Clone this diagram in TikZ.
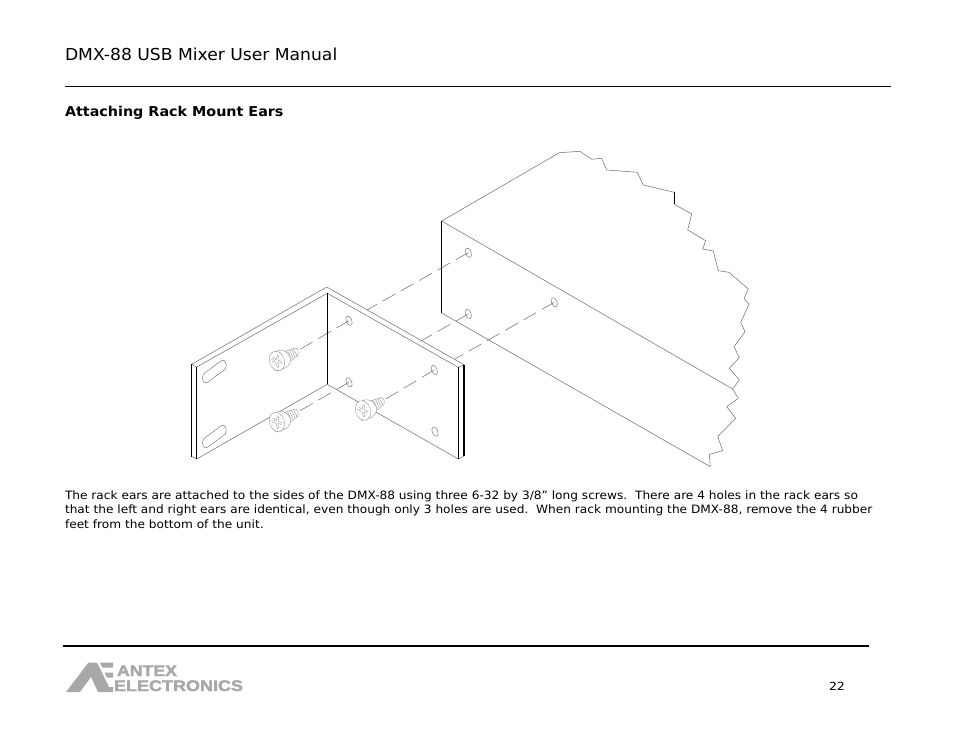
\documentclass[tikz,border=0pt]{standalone}
\usepackage{graphicx}
\usepackage{fontspec}
\setmainfont{DejaVu Sans}
\newfontfamily\logofont[BoldFeatures={FakeBold=2.2}]{Liberation Sans}
\usetikzlibrary{calc}
\definecolor{ink}{gray}{0.45}
\definecolor{logogray}{gray}{0.66}
\tikzset{
  thinline/.style={draw=ink,line width=0.55pt,line join=round},
  blackline/.style={draw=black,line width=1.1pt},
  centerline/.style={draw=ink,line width=0.55pt,dash pattern=on 14.5pt off 6.5pt},
  textline/.style={anchor=base west,inner sep=0pt,outer sep=0pt},
  screwpart/.style={draw=black!50,line width=0.3pt},
}
\newcommand{\rackhole}[1]{\draw[thinline,line width=0.45pt] (#1) ellipse[x radius=2.8,y radius=5,rotate=22];}
\newcommand{\earslot}[1]{\begin{scope}[shift={(#1)}]
  \draw[thinline,line width=0.45pt] (-10.8,3.2) -- (7,-10) .. controls (10.5,-12.5) and (13.5,-6.5) .. (11,-1.5) -- (-7,11.8) .. controls (-10.5,14) and (-13.5,8) .. cycle;
\end{scope}}
\newcommand{\thescrew}[1]{%
  \begin{scope}[shift={(#1)}]
    \draw[screwpart,fill=white] (5,-8.5) -- (18,-13) .. controls (20.5,-13.5) and (22,-9) .. (21,-6) -- (11,2) -- cycle;
    \foreach \d in {0,2,...,10}{
      \draw[screwpart] ($(6.5,-9)+(\d,-\d*0.35)$) -- ($(10,0.5)+(\d,-\d*0.6)$);
    }
    \draw[screwpart,fill=white] (-1,-9.8) .. controls (4,-12) and (10.5,-10.5) .. (13,-4) .. controls (14.5,0) and (12.5,4.5) .. (9,6.5) -- (2,9.5) -- (-2,10) -- cycle;
    \draw[screwpart,fill=white] (0,0) ellipse[x radius=7.4,y radius=10,rotate=18];
    \draw[screwpart] (-4.5,-4) -- (-1,-1.2) -- (0.5,-6.5) (1.5,-6) -- (1,-1) -- (5,1)
      (4.5,2.5) -- (0.8,1.5) -- (1.8,6.3) (0.5,6.8) -- (-1,1.5) -- (-5.5,0) (-5.7,-1.5) -- (-2.2,-0.7);
  \end{scope}}
\begin{document}
\begin{tikzpicture}[x=1pt,y=-1pt]
\useasboundingbox (0,0) rectangle (954,738);
% header
\node[textline] (title) at (65,61) {\scalebox{1.04}[1]{\fontsize{16.5}{19}\selectfont DMX-88 USB Mixer User Manual}};
\coordinate (ruleTopA) at (65,86.5); \coordinate (ruleTopB) at (890.5,86.5);
\draw[black,line width=0.8pt] (ruleTopA) -- (ruleTopB);
\node[textline] (heading) at (65,117) {\scalebox{1.053}[1]{\fontsize{13.6}{16}\selectfont\bfseries Attaching Rack Mount Ears}};
% box
\coordinate (boxApex) at (441.7,221);
\coordinate (boxFoot) at (441.7,313);
\coordinate (boxMid) at (732.7,389);
\coordinate (boxEnd) at (710.3,466.7);
\coordinate (boxTop) at (559.3,152.7);
\draw[thinline] (boxApex) -- (boxTop) -- (580,151.3) -- (591.7,159.3) -- (601.7,158.3) -- (606.7,170) -- (637.3,172.3) -- (643.3,185) -- (674.3,192.3);
\draw[blackline,line width=1pt] (674.3,192.3) -- (674.3,204.3);
\draw[thinline] (674.3,204.3) -- (691.7,214) -- (687.7,230) -- (705.7,240.7) -- (702.7,249) -- (713.3,251) -- (718.3,270.7) -- (729,272.3) -- (748.3,289) -- (744,298.3) -- (749,304.5) -- (740.7,322.3) -- (745,331.7) -- (734,346.7) -- (739.3,357.7) -- (729.3,368.3) -- (739.3,380) -- (boxMid) -- (738.3,398.3) -- (726.7,406.7) -- (735.7,418.3) -- (717.7,436.7) -- (722.7,450.7) -- (709.3,454.3) -- (boxEnd);
\draw[thinline] (boxApex) -- (boxMid);
\draw[thinline] (boxFoot) -- (boxEnd);
\draw[blackline] (boxApex) -- (boxFoot);
% centre lines, box side to ear
\coordinate (holeA) at (468.3,252.7);
\coordinate (holeB) at (468.3,314);
\coordinate (holeC) at (554.3,302.3);
\coordinate (earA) at (349,320.7);
\coordinate (earB) at (349,382.3);
\coordinate (earC) at (434.3,370);
\coordinate (earD) at (435,431.7);
\coordinate (hideA) at (367,310);
\coordinate (hideB) at (421,341);
\coordinate (hideC) at (455,359);
\coordinate (stemA) at (298,350.5);
\coordinate (stemB) at (298,412);
\coordinate (stemC) at (384,400);
\draw[centerline] (holeA) -- (hideA);
\draw[centerline] (holeB) -- (hideB);
\draw[centerline] (holeC) -- (hideC);
\draw[centerline] (earA) -- (stemA);
\draw[centerline] (earB) -- (stemB);
\draw[centerline] (earC) -- (stemC);
\rackhole{holeA}\rackhole{holeB}\rackhole{holeC}
% ear
\coordinate (apexOut) at (326.7,287);
\coordinate (apexIn) at (327.3,293.3);
\coordinate (leftOut) at (191.7,364.3);
\coordinate (leftIn) at (196.7,367);
\coordinate (rightIn) at (458.3,367.3);
\coordinate (rightOut) at (464,364.7);
\coordinate (footMid) at (327.3,384.3);
\coordinate (footLeft) at (196.7,459);
\coordinate (footRight) at (458.3,459);
\coordinate (leftLow) at (191.7,456.5);
\coordinate (rightLow) at (464,456);
\draw[thinline] (leftOut) -- (apexOut) -- (rightOut) -- (rightIn) -- (apexIn) -- (leftIn) -- (leftOut);
\draw[thinline] (leftLow) -- (footLeft) -- (footMid) -- (footRight) -- (rightLow);
\draw[blackline] (apexIn) -- (footMid);
\draw[blackline] (leftOut) -- (leftLow);
\draw[blackline] (leftIn) -- (footLeft);
\draw[blackline] (rightIn) -- (footRight);
\draw[blackline] (rightOut) -- (rightLow);
\rackhole{earA}\rackhole{earB}\rackhole{earC}\rackhole{earD}
\earslot{214.3,370.7}
\earslot{214.3,435.7}
\thescrew{277,361}
\thescrew{277,422}
\thescrew{363,410.5}
% body
\begin{scope}[every node/.style={textline}]
\node (lineA) at (65,499.5) {\scalebox{1.058}[1]{\fontsize{11.5}{13}\selectfont The rack ears are attached to the sides of the DMX-88 using three 6-32 by 3/8” long screws.\ \ There are 4 holes in the rack ears so}};
\node (lineB) at (65,513.5) {\scalebox{1.058}[1]{\fontsize{11.5}{13}\selectfont that the left and right ears are identical, even though only 3 holes are used.\ \ When rack mounting the DMX-88, remove the 4 rubber}};
\node (lineC) at (65,528.5) {\scalebox{1.058}[1]{\fontsize{11.5}{13}\selectfont feet from the bottom of the unit.}};
\end{scope}
% footer
\coordinate (ruleBotA) at (63,646); \coordinate (ruleBotB) at (868.5,646);
\draw[black,line width=1.9pt] (ruleBotA) -- (ruleBotB);
\fill[logogray] (66,692) -- (88.5,662.5) -- (97,662.5) -- (109,687) -- (113,687) -- (113,692) -- (98,692) -- (91,677) -- (80,692) -- cycle;
\fill[logogray] (100,662.5) -- (113,662.5) -- (113,667.5) -- (102.5,667.5) -- cycle;
\fill[logogray] (104.5,672.5) -- (113,672.5) -- (113,677.5) -- (107,677.5) -- cycle;
\node[textline,text=logogray] (logoA) at (117,676) {\scalebox{1.18}[1.02]{\logofont\fontsize{15}{15}\selectfont\bfseries ANTEX}};
\node[textline,text=logogray] (logoB) at (114,691) {\scalebox{1.2}[1.02]{\logofont\fontsize{15}{15}\selectfont\bfseries ELECTRONICS}};
\node[textline] (page) at (829,690.5) {\scalebox{1.12}[1]{\fontsize{11.2}{13}\selectfont 22}};
\end{tikzpicture}
\end{document}
